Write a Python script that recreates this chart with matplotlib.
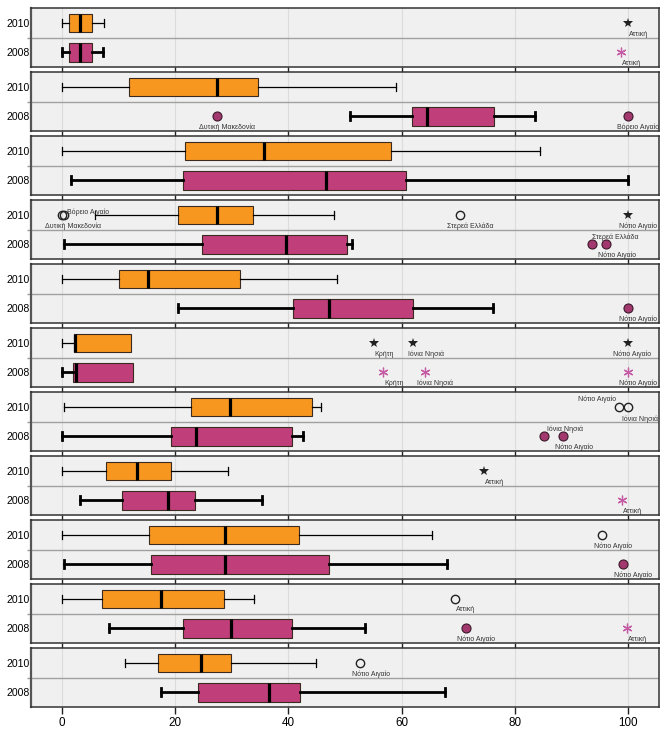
import matplotlib
matplotlib.use("Agg")
import matplotlib.pyplot as plt

plt.rcParams['font.family'] = ['Liberation Sans', 'DejaVu Sans']

# ---------------- data ----------------
years = ['2010', '2008']
panels = list(range(11))

q1_2010 = [1.3, 11.9, 21.7, 20.4, 10.0, 2.1, 22.7, 7.8, 15.4, 7.0, 16.9]
med_2010 = [3.2, 27.3, 35.6, 27.3, 15.1, 2.2, 29.7, 13.2, 28.8, 17.5, 24.6]
q3_2010 = [5.2, 34.6, 58.2, 33.7, 31.4, 12.1, 44.2, 19.3, 41.9, 28.6, 29.9]
lo_2010 = [0.0, 0.0, 0.0, 5.8, 0.0, 0.0, 0.4, 0.0, 0.0, 0.0, 11.2]
hi_2010 = [7.4, 59.1, 84.4, 48.0, 48.6, 12.1, 45.8, 29.3, 65.3, 34.0, 44.8]

q1_2008 = [1.3, 61.8, 21.4, 24.8, 40.8, 1.9, 19.3, 10.5, 15.7, 21.3, 24.1]
med_2008 = [3.1, 64.5, 46.6, 39.5, 47.2, 2.5, 23.6, 18.7, 28.8, 29.9, 36.6]
q3_2008 = [5.2, 76.4, 60.8, 50.4, 62.0, 12.5, 40.7, 23.4, 47.2, 40.6, 42.0]
lo_2008 = [0.0, 50.9, 1.6, 0.3, 20.4, 0.0, 0.0, 3.2, 0.35, 8.3, 17.5]
hi_2008 = [7.3, 83.6, 100.0, 51.3, 76.2, 12.5, 42.6, 35.4, 68.1, 53.5, 67.7]

# outliers: panel, year, value, kind ('o' outlier, 'e' extreme), label
out_panel = [0, 3, 3, 3, 3, 5, 5, 5, 6, 6, 7, 8, 9, 10,
             0, 1, 1, 3, 3, 4, 5, 5, 5, 6, 6, 7, 8, 9, 9]
out_year = ['2010'] * 14 + ['2008'] * 15
out_value = [100.0, 0.0, 0.25, 70.3, 100.0, 55.1, 62.1, 100.0, 98.4, 100.0, 74.6, 95.5, 69.5, 52.7,
             98.8, 27.3, 100.0, 93.6, 96.2, 100.0, 56.8, 64.1, 100.0, 85.2, 88.6, 98.9, 99.1, 71.3, 99.9]
out_kind = ['e', 'o', 'o', 'o', 'e', 'e', 'e', 'e', 'o', 'o', 'e', 'o', 'o', 'o',
            'e', 'o', 'o', 'o', 'o', 'o', 'e', 'e', 'e', 'o', 'o', 'e', 'o', 'o', 'e']
out_label = ['Αττική', 'Δυτική Μακεδονία', 'Βόρειο Αιγαίο', 'Στερεά Ελλάδα', 'Νότιο Αιγαίο',
             'Κρήτη', 'Ιόνια Νησιά', 'Νότιο Αιγαίο', 'Νότιο Αιγαίο', 'Ιόνια Νησιά', 'Αττική',
             'Νότιο Αιγαίο', 'Αττική', 'Νότιο Αιγαίο',
             'Αττική', 'Δυτική Μακεδονία', 'Βόρειο Αιγαίο', 'Στερεά Ελλάδα', 'Νότιο Αιγαίο',
             'Νότιο Αιγαίο', 'Κρήτη', 'Ιόνια Νησιά', 'Νότιο Αιγαίο', 'Ιόνια Νησιά', 'Νότιο Αιγαίο',
             'Αττική', 'Νότιο Αιγαίο', 'Νότιο Αιγαίο', 'Αττική']

xticks = [0, 20, 40, 60, 80, 100]

# ---------------- styling / layout ----------------
W, H, DPI = 667, 737, 100
ORANGE = '#F7971F'
MAGENTA = '#C03F7B'
DOT = '#A3386F'
AST = '#C55AA5'
BG = '#F0F0F0'

# label offsets in pixels (dx right, dy down)
default_off = (10.5, 11)
special_off = {
    (3, '2010', 'Βόρειο Αιγαίο'): (25, -2.5),
    (3, '2008', 'Στερεά Ελλάδα'): (24, -7.5),
    (5, '2010', 'Νότιο Αιγαίο'): (4.5, 11),
    (5, '2010', 'Ιόνια Νησιά'): (13, 11),
    (6, '2010', 'Νότιο Αιγαίο'): (-22, -8),
    (6, '2010', 'Ιόνια Νησιά'): (12, 12),
    (6, '2008', 'Ιόνια Νησιά'): (21, -7.5),
}

fig = plt.figure(figsize=(W / DPI, H / DPI), dpi=DPI)
left_px, right_px = 31, 659
top0, period, ph = 8.3, 64.0, 58.8

stats = {
    '2010': (q1_2010, med_2010, q3_2010, lo_2010, hi_2010),
    '2008': (q1_2008, med_2008, q3_2008, lo_2008, hi_2008),
}
ypos = {'2010': 1.5, '2008': 0.5}

axes = []
for k in panels:
    top = top0 + k * period
    ax = fig.add_axes([left_px / W, 1 - (top + ph) / H, (right_px - left_px) / W, ph / H])
    axes.append(ax)
    ax.set_facecolor(BG)
    ax.set_xlim(-5.5, 105.5)
    ax.set_ylim(0, 2)
    for xt in xticks:
        ax.axvline(xt, color='#DCDCDC', lw=0.8, zorder=0)
    ax.axhline(1, color='#A0A0A0', lw=1.0, zorder=1)

    for yr in years:
        q1, md, q3, lo, hi = (s[k] for s in stats[yr])
        st = [dict(med=md, q1=q1, q3=q3, whislo=lo, whishi=hi, fliers=[])]
        face = ORANGE if yr == '2010' else MAGENTA
        wl = 0.9 if yr == '2010' else 2.0
        kw = dict(positions=[ypos[yr]], widths=0.62, patch_artist=True, showfliers=False,
                  boxprops=dict(facecolor=face, edgecolor='#3a2a20', lw=0.8),
                  medianprops=dict(color='black', lw=2.3, solid_capstyle='butt'),
                  whiskerprops=dict(color='black', lw=wl),
                  capprops=dict(color='black', lw=wl), capwidths=0.27)
        try:
            res = ax.bxp(st, orientation='horizontal', **kw)
        except TypeError:
            res = ax.bxp(st, vert=False, **kw)
        caps = res['caps']
        if hi <= q3 and len(caps) > 1:
            caps[1].set_visible(False)
        if lo >= q1 and len(caps) > 0:
            caps[0].set_visible(False)

    for p, yr, v, kd, lab in zip(out_panel, out_year, out_value, out_kind, out_label):
        if p != k:
            continue
        y = ypos[yr]
        if kd == 'o':
            if yr == '2010':
                ax.plot([v], [y], marker='o', ms=6, mfc='none', mec='#222222', mew=1.0,
                        ls='none', zorder=5, clip_on=False)
            else:
                ax.plot([v], [y], marker='o', ms=6.5, mfc=DOT, mec='#3a1a2a', mew=0.8,
                        ls='none', zorder=5, clip_on=False)
        else:
            if yr == '2010':
                ax.plot([v], [y], marker='*', ms=7, color='#222222', mew=0,
                        ls='none', zorder=5, clip_on=False)
            else:
                ax.plot([v], [y], marker=(6, 2, 0), ms=7, color=AST, mew=0.9,
                        ls='none', zorder=5, clip_on=False)
        dx, dy = special_off.get((p, yr, lab), default_off)
        ax.annotate(lab, (v, y), xytext=(dx * 0.72, -dy * 0.72), textcoords='offset points',
                    ha='center', va='center', fontsize=5, color='#333333', zorder=6)

    ax.set_yticks([0.5, 1.5])
    ax.set_yticklabels(['2008', '2010'], fontsize=7.6)
    ax.tick_params(axis='y', length=0, pad=1)
    ax.set_yticks([1], minor=True)
    ax.tick_params(axis='y', which='minor', length=3, color='#999999', width=1)
    ax.set_xticks(xticks)
    ax.tick_params(axis='x', length=5, width=1.0, color='#222222', direction='out', labelsize=8.4, pad=2)
    if k != panels[-1]:
        ax.tick_params(axis='x', labelbottom=False)
    for sp in ax.spines.values():
        sp.set_color('#333333')
        sp.set_linewidth(1.1)
    ax.spines['left'].set_color('#555555')
    ax.spines['left'].set_linewidth(1.6)

fig.savefig('out.png', dpi=DPI)
